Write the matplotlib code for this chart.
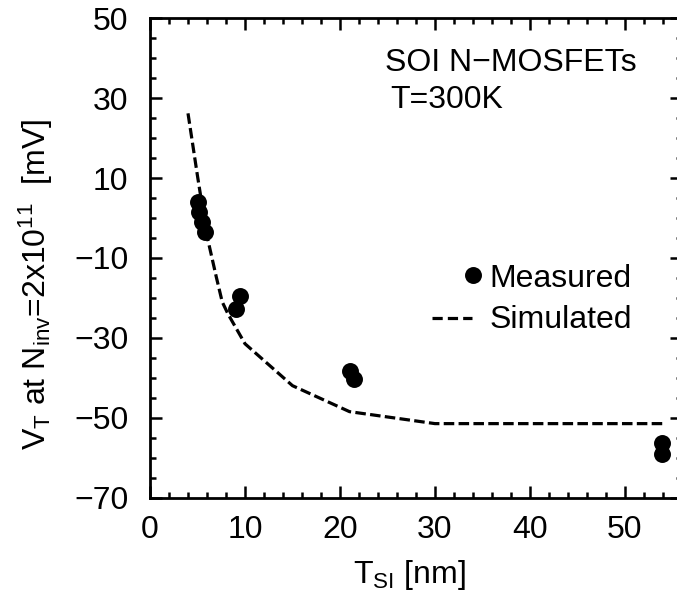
import matplotlib
matplotlib.use("Agg")
import matplotlib.pyplot as plt
from matplotlib.ticker import MultipleLocator, FixedLocator
from matplotlib.lines import Line2D

plt.rcParams["font.family"] = ["Liberation Sans", "DejaVu Sans"]
plt.rcParams["mathtext.fontset"] = "custom"
plt.rcParams["mathtext.rm"] = "Liberation Sans"
plt.rcParams["mathtext.it"] = "Liberation Sans:italic"
plt.rcParams["mathtext.bf"] = "Liberation Sans:bold"

# Measured threshold voltages vs. silicon film thickness
measured_tsi = [5.0, 5.2, 5.5, 5.8, 9.0, 9.5, 21.0, 21.5, 53.9, 53.9]
measured_vt = [4.0, 1.5, -1.0, -3.5, -22.8, -19.5, -38.3, -40.3, -56.3, -59.2]

# Simulated curve
sim_tsi = [4, 5, 6, 7, 7.6, 8.2, 10, 15, 21, 30, 54]
sim_vt = [26.2, 10.5, -4.5, -15.0, -21.0, -24.0, -31.5, -42.0, -48.5, -51.5, -51.5]

x_major = [0, 10, 20, 30, 40, 50]
y_major = [-70, -50, -30, -10, 10, 30, 50]

W, H = 677, 594
FS = 23


def fx(px):
    return px / W


def fy(py):
    return 1 - py / H


fig = plt.figure(figsize=(W / 100, H / 100), dpi=100)
ax = fig.add_axes([fx(150), fy(497.5), 532 / W, 479.2 / H])

ax.plot(sim_tsi, sim_vt, color="black", lw=2.3, dashes=(3.3, 1.35),
        dash_capstyle="butt", zorder=2)
ax.plot(measured_tsi, measured_vt, "o", color="black", ms=12.2,
        markeredgewidth=0, zorder=3)

ax.set_xlim(0, 56)
ax.set_ylim(-70, 50)
ax.xaxis.set_major_locator(FixedLocator(x_major))
ax.xaxis.set_minor_locator(MultipleLocator(2))
ax.yaxis.set_major_locator(FixedLocator(y_major))
ax.yaxis.set_minor_locator(MultipleLocator(5))

ax.tick_params(which="both", direction="in", top=True, right=True,
               width=1.8, colors="black")
ax.tick_params(which="major", length=8.5)
ax.tick_params(which="minor", length=4.5)
ax.tick_params(axis="x", which="major", pad=12.5, labelsize=FS)
ax.tick_params(axis="y", which="major", pad=15.5, labelsize=FS)
for sp in ax.spines.values():
    sp.set_linewidth(2.0)

# Axis titles
fig.text(fx(36), fy(285),
         r"V$_{\mathregular{T}}$ at N$_{\mathregular{inv}}$=2x10$^{\mathregular{11}}$  [mV]",
         rotation=90, ha="center", va="center", fontsize=FS)
fig.text(fx(409), fy(583.3), r"T$_{\mathregular{SI}}$ [nm]",
         ha="center", va="baseline", fontsize=FS)

# Annotations
fig.text(fx(385), fy(71), "SOI N\u2212MOSFETs", ha="left", va="baseline", fontsize=FS)
fig.text(fx(390), fy(107.7), "T=300K", ha="left", va="baseline", fontsize=FS)

# Key
fig.add_artist(Line2D([fx(473.3)], [fy(275)], marker="o", color="black",
                      ms=12.2, markeredgewidth=0, linestyle="none"))
fig.text(fx(489.5), fy(286.7), "Measured", ha="left", va="baseline", fontsize=FS)
fig.add_artist(Line2D([fx(431.7), fx(471.7)], [fy(318), fy(318)], color="black",
                      lw=2.3, dashes=(3.2, 1.6), dash_capstyle="butt"))
fig.text(fx(490), fy(328), "Simulated", ha="left", va="baseline", fontsize=FS)

fig.savefig("out.png", dpi=100)
